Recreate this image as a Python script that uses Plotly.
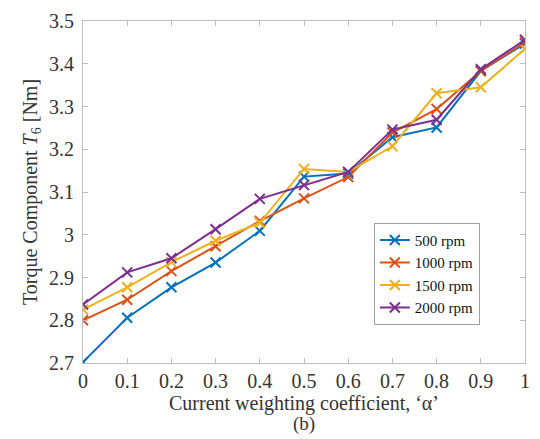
import plotly.graph_objects as go

alpha = [0, 0.1, 0.2, 0.3, 0.4, 0.5, 0.6, 0.7, 0.8, 0.9, 1.0]
rpm500 = [2.702, 2.806, 2.877, 2.935, 3.009, 3.136, 3.143, 3.228, 3.251, 3.383, 3.447]
rpm1000 = [2.800, 2.848, 2.915, 2.973, 3.032, 3.085, 3.135, 3.239, 3.294, 3.383, 3.450]
rpm1500 = [2.825, 2.877, 2.936, 2.986, 3.028, 3.154, 3.147, 3.207, 3.331, 3.345, 3.435]
rpm2000 = [2.837, 2.912, 2.945, 3.013, 3.084, 3.116, 3.147, 3.246, 3.269, 3.387, 3.456]

series = [("500 rpm", rpm500, "#0072BD"),
          ("1000 rpm", rpm1000, "#D95319"),
          ("1500 rpm", rpm1500, "#EDB120"),
          ("2000 rpm", rpm2000, "#7E2F8E")]

xticks = [0, 0.1, 0.2, 0.3, 0.4, 0.5, 0.6, 0.7, 0.8, 0.9, 1]
xticklabels = ["0", "0.1", "0.2", "0.3", "0.4", "0.5", "0.6", "0.7", "0.8", "0.9", "1"]
yticks = [2.7, 2.8, 2.9, 3.0, 3.1, 3.2, 3.3, 3.4, 3.5]
yticklabels = ["2.7", "2.8", "2.9", "3", "3.1", "3.2", "3.3", "3.4", "3.5"]

FONT = "Liberation Serif"
TXT = "#333333"

fig = go.Figure()
for name, vals, col in series:
    fig.add_trace(go.Scatter(
        x=alpha, y=vals, name=name, mode="lines+markers",
        line=dict(color=col, width=2),
        marker=dict(symbol="x-thin-open", size=10, line=dict(color=col, width=2)),
    ))

fig.update_layout(
    width=540, height=439,
    margin=dict(l=83, r=10, t=14, b=76),
    paper_bgcolor="white", plot_bgcolor="white",
    font=dict(family=FONT, color=TXT, size=20),
    showlegend=True,
    legend=dict(x=0.658, y=0.261, xanchor="left", yanchor="middle",
                bgcolor="white", bordercolor="#a0a0a0", borderwidth=1,
                font=dict(family=FONT, size=15, color="#111111"),
                tracegroupgap=0, itemwidth=30),
)

fig.update_xaxes(
    range=[0, 1], tickmode="array", tickvals=xticks, ticktext=xticklabels,
    showline=True, linecolor="#bdbdbd", linewidth=1, mirror="ticks",
    ticks="inside", ticklen=5, tickcolor="#bdbdbd", tickwidth=1,
    showgrid=False, zeroline=False,
    tickfont=dict(family=FONT, size=20, color=TXT),
    title_text="Current weighting coefficient, ‘α’",
    title_font=dict(family=FONT, size=20, color=TXT),
    title_standoff=0,
)
fig.update_yaxes(
    range=[2.7, 3.5], tickmode="array", tickvals=yticks, ticktext=yticklabels,
    showline=True, linecolor="#bdbdbd", linewidth=1, mirror="ticks",
    ticks="inside", ticklen=5, tickcolor="#bdbdbd", tickwidth=1,
    showgrid=False, zeroline=False,
    tickfont=dict(family=FONT, size=20, color=TXT),
    ticklabelstandoff=4,
    title_text="Torque Component <i>T</i><sub>6</sub> [Nm]",
    title_font=dict(family=FONT, size=20, color=TXT),
    title_standoff=6,
)

fig.add_annotation(text="(b)", x=0.5, y=-0.178, xref="paper", yref="paper",
                   xanchor="center", yanchor="middle", showarrow=False,
                   font=dict(family=FONT, size=19, color=TXT))

fig.write_html("out.html")
